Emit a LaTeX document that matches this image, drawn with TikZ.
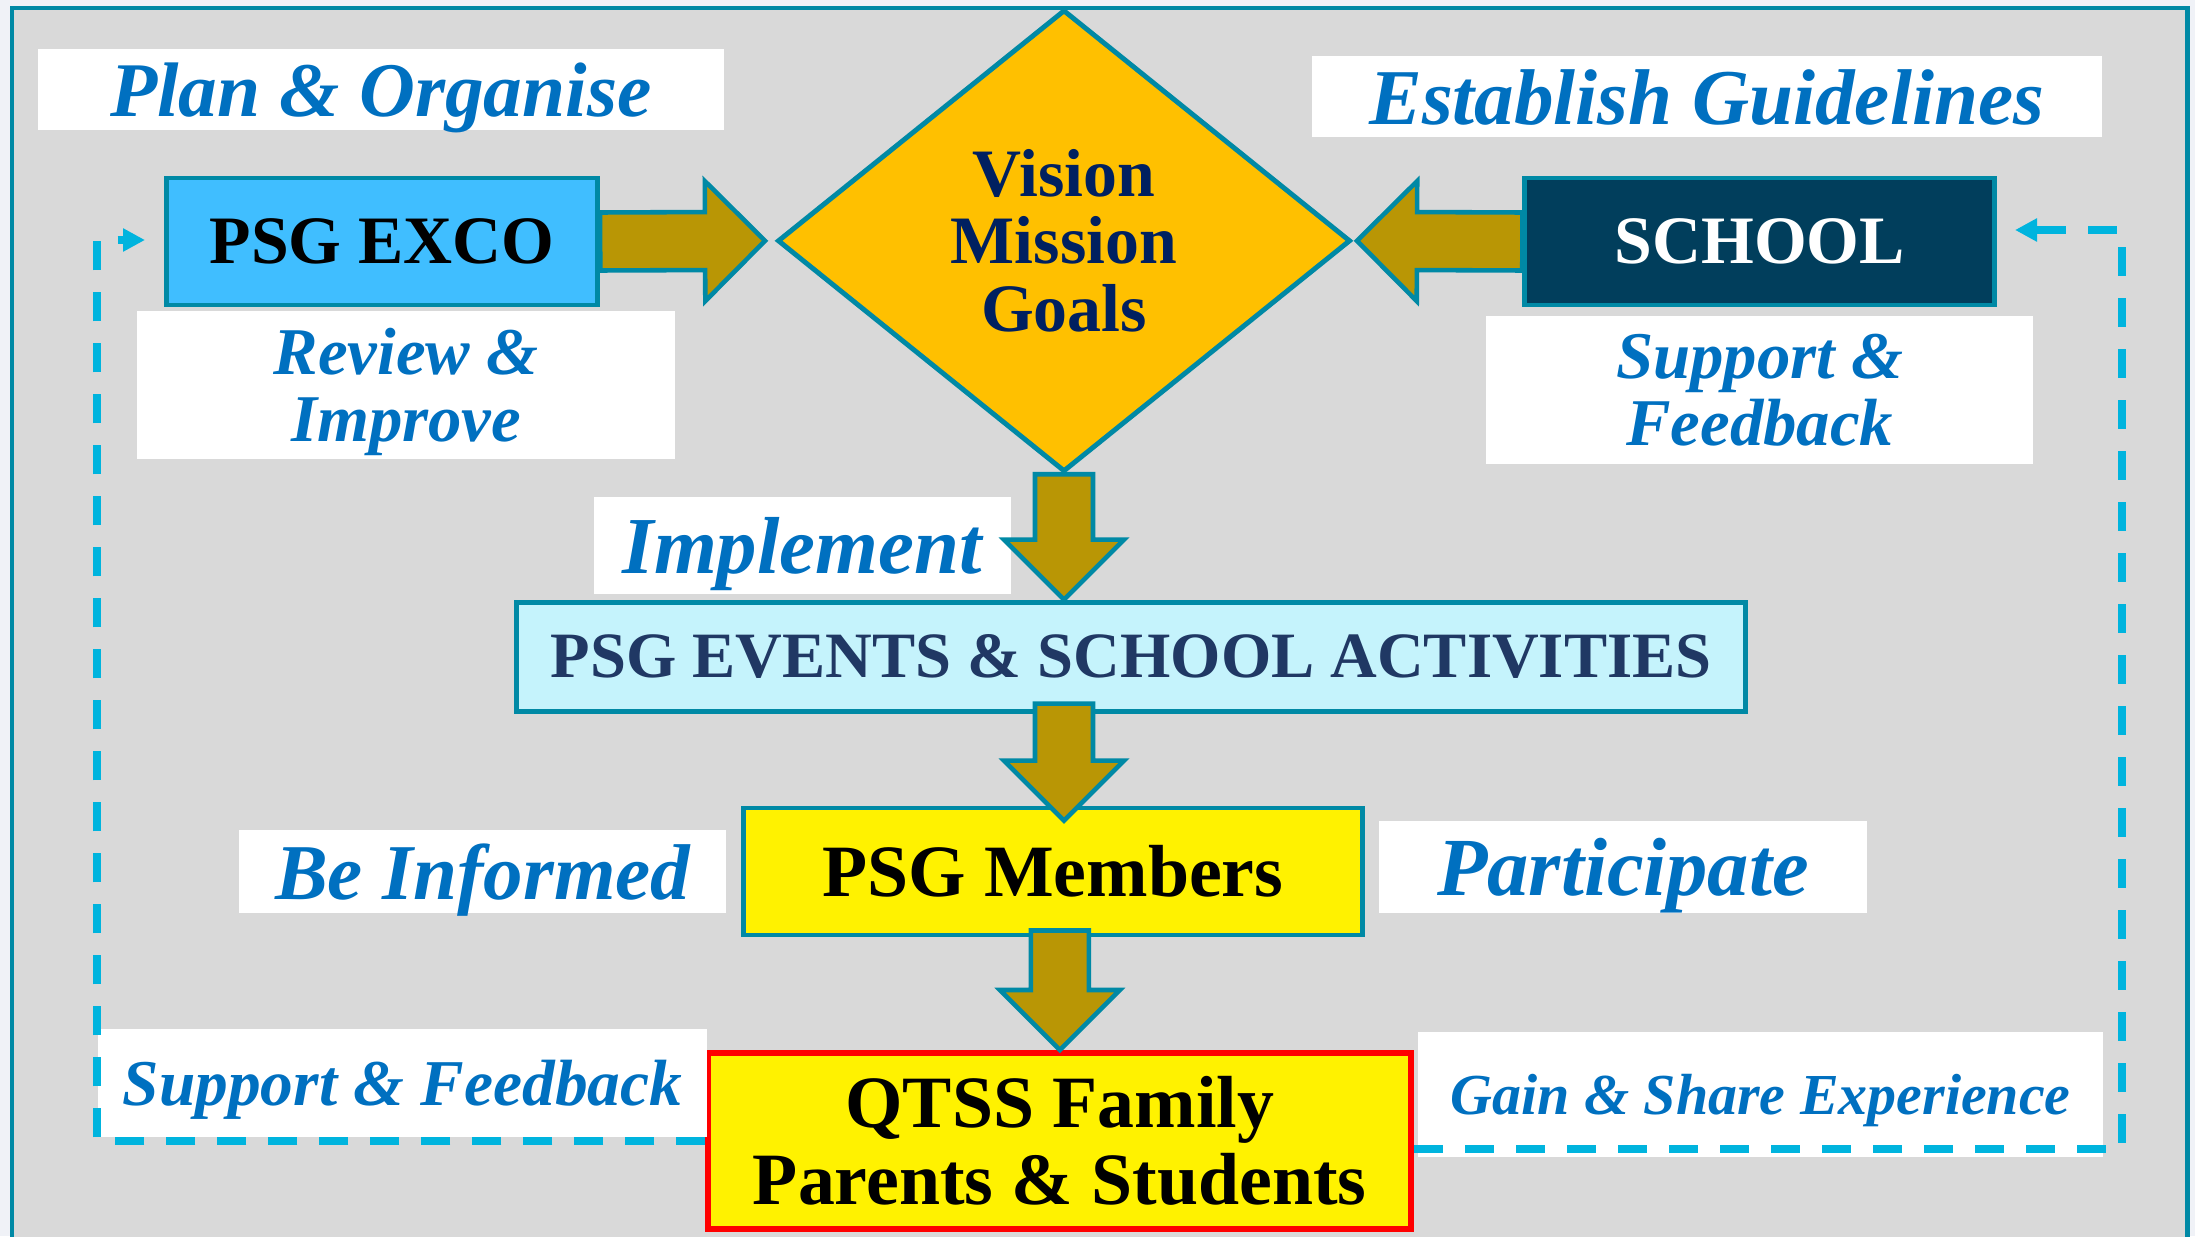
\documentclass[tikz,border=0pt]{standalone}
\usepackage{fontspec}
\setmainfont{Liberation Serif}
\usetikzlibrary{arrows.meta,positioning,shapes.geometric,calc}
\definecolor{PageTint}{RGB}{240,242,247}
\definecolor{PanelGray}{RGB}{217,217,217}
\definecolor{EdgeTeal}{RGB}{0,137,165}
\definecolor{ArrowGold}{RGB}{185,150,5}
\definecolor{HubAmber}{RGB}{255,192,0}
\definecolor{ExcoBlue}{RGB}{64,190,255}
\definecolor{SchoolNavy}{RGB}{1,62,92}
\definecolor{EventCyan}{RGB}{197,243,252}
\definecolor{HubText}{RGB}{0,32,96}
\definecolor{EventText}{RGB}{32,56,100}
\definecolor{LabelBlue}{RGB}{0,112,192}
\definecolor{LoopCyan}{RGB}{0,180,222}

\begin{document}
\begin{tikzpicture}[
    >=Stealth,
    node distance=0.1cm,
    box/.style={rectangle, draw=EdgeTeal, fill=#1, line width=1.4pt,
                align=center, inner sep=0pt, text=black,
                font=\bfseries\fontsize{19.3}{19.3}\selectfont},
    box/.default=yellow,
    lbl/.style={rectangle, fill=white, inner sep=0pt, align=center, text depth=0pt,
                text=LabelBlue, font=\bfseries\itshape\fontsize{#1}{#1}\selectfont},
    lbl/.default=22.5,
    hub/.style={diamond, draw=EdgeTeal, fill=HubAmber, line width=1.4pt,
                inner sep=0pt, minimum width=5.73cm, minimum height=4.62cm,
                align=center, text=HubText,
                font=\bfseries\fontsize{19.3}{19.3}\selectfont},
    fat/.style={draw=EdgeTeal, fill=ArrowGold, line width=1.3pt, line join=miter,
                to path={
                  ($(\tikztostart)!0.29cm!90:(\tikztotarget)$)
                  -- ($($(\tikztotarget)!0.6cm!(\tikztostart)$)!0.29cm!90:(\tikztotarget)$)
                  -- ($($(\tikztotarget)!0.6cm!(\tikztostart)$)!0.6cm!90:(\tikztotarget)$)
                  -- (\tikztotarget)
                  -- ($($(\tikztotarget)!0.6cm!(\tikztostart)$)!0.6cm!-90:(\tikztotarget)$)
                  -- ($($(\tikztotarget)!0.6cm!(\tikztostart)$)!0.29cm!-90:(\tikztotarget)$)
                  -- ($(\tikztostart)!0.29cm!-90:(\tikztotarget)$) -- cycle}},
    fbline/.style={draw=LoopCyan, line width=2.2pt,
                dash pattern=on 0.29cm off 0.22cm,
                -{Triangle[length=0.22cm, width=0.22cm]}},
]

% ── page and panel ──
\useasboundingbox (0,0) rectangle (21.95,-12.36);
\fill[PageTint] (0,0) rectangle (21.95,-12.36);
\draw[EdgeTeal, fill=PanelGray, line width=1.4pt] (0.12,-0.08) rectangle (21.87,-12.6);

% ── centre: vision / mission / goals ──
\node[hub] (vmg) at (10.64,-2.408) {Vision\\Mission\\Goals};

% ── the two sides ──
\node[box=ExcoBlue, minimum width=4.31cm, minimum height=1.27cm]
    (exco) at (3.822,-2.415) {PSG EXCO};
\node[box=SchoolNavy, text=white, minimum width=4.7cm, minimum height=1.27cm]
    (school) at (17.598,-2.415) {SCHOOL};

% ── chain downwards ──
\node[box=EventCyan, text=EventText, minimum width=12.29cm, minimum height=1.09cm,
      font=\bfseries\fontsize{18.4}{18.4}\selectfont]
    (events) at (11.312,-6.566) {PSG EVENTS \& SCHOOL ACTIVITIES};
\node[box, minimum width=6.19cm, minimum height=1.27cm,
      font=\bfseries\fontsize{21}{21}\selectfont]
    (members) at (10.528,-8.715) {PSG Members};
\node[box, draw=red, line width=1.7pt, minimum width=7.03cm, minimum height=1.76cm,
      font=\bfseries\fontsize{21}{22}\selectfont]
    (qtss) at (10.598,-11.41) {QTSS Family\\Parents \& Students};

% ── white labels ──
\node[lbl=22, minimum width=6.86cm, minimum height=0.81cm] (plan) at (3.808,-0.896) {Plan \& Organise};
\node[lbl, minimum width=7.9cm, minimum height=0.81cm] (guide) at (17.066,-0.966) {Establish Guidelines};
\node[lbl=19, minimum width=5.38cm, minimum height=1.48cm, below=0.03cm of exco, xshift=0.24cm]
    (review) {Review \&\\Improve};
\node[lbl=19, minimum width=5.47cm, minimum height=1.48cm, below=0.08cm of school]
    (backing) {Support \&\\Feedback};
\node[lbl=23, minimum width=4.17cm, minimum height=0.97cm] (implement) at (8.022,-5.453) {Implement};
\node[lbl, minimum width=4.87cm, minimum height=0.83cm, left=0.14cm of members]
    (informed) {Be Informed};
\node[lbl=23.5, minimum width=4.87cm, minimum height=0.92cm, right=0.14cm of members, yshift=0.05cm]
    (participate) {Participate};
\node[lbl=18.6, minimum width=6.09cm, minimum height=1.08cm] (feedback) at (4.025,-10.829) {Support \& Feedback};
\node[lbl=16.5, minimum width=6.85cm, minimum height=1.25cm] (share) at (17.605,-10.941) {Gain \& Share Experience};

% ── block arrows ──
\coordinate (excotip) at ([xshift=-0.1cm]vmg.west);
\coordinate (schooltip) at ([xshift=0.04cm]vmg.east);
\coordinate (eventsin) at (vmg.south |- events.north);
\coordinate (eventsout) at ($(vmg.south |- events.south)+(0,0.1)$);
\coordinate (membersin) at ($(vmg.south |- members.north)+(0,-0.15)$);
\coordinate (membersout) at ($(qtss.north |- members.south)+(0,0.07)$);
\draw[fat] (exco.east) to (excotip);
\draw[fat] (school.west) to (schooltip);
\draw[fat] (vmg.south) to (eventsin);
\draw[fat] (eventsout) to (membersin);
\draw[fat] (membersout) to (qtss.north);

% ── feedback loops (dashed) ──
\coordinate (leftrail) at (0.97,-2.4);
\coordinate (excoin) at (1.45,-2.4);
\draw[fbline] (qtss.west) -| (leftrail) -- (excoin);
\coordinate (rightrail) at (21.22,-2.3);
\coordinate (schoolin) at (20.15,-2.3);
\draw[fbline] ([yshift=-0.08cm]qtss.east) -| (rightrail) -- (schoolin);

\end{tikzpicture}
\end{document}
